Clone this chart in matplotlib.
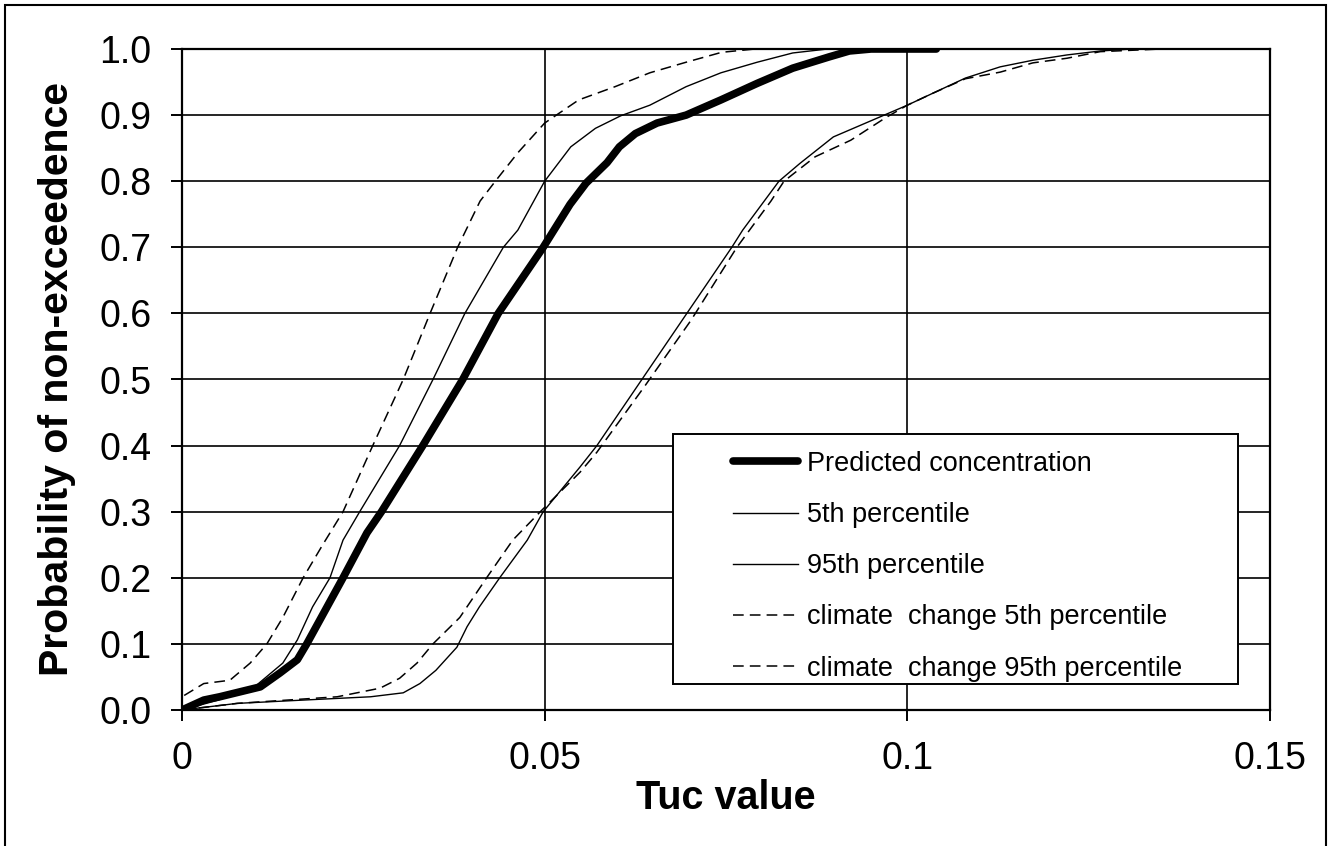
import matplotlib
matplotlib.use("Agg")
import matplotlib.pyplot as plt
from matplotlib.patches import Rectangle

plt.rcParams['font.family'] = ['Liberation Sans', 'DejaVu Sans']

# Predicted concentration (thick)
pred_x = [0, 0.003, 0.0052, 0.0108, 0.0135, 0.0159, 0.0172, 0.020, 0.0222, 0.0255, 0.0275,
          0.0332, 0.0387, 0.0436, 0.0498, 0.0535, 0.0557, 0.0586, 0.0603, 0.0625, 0.0655,
          0.0695, 0.0743, 0.0793, 0.0842, 0.0892, 0.092, 0.095, 0.104]
pred_p = [0, 0.015, 0.02, 0.035, 0.056, 0.076, 0.10, 0.156, 0.20, 0.268, 0.30,
          0.40, 0.50, 0.60, 0.70, 0.765, 0.797, 0.828, 0.852, 0.872, 0.888,
          0.90, 0.923, 0.948, 0.971, 0.988, 0.997, 1.0, 1.0]

# 5th percentile (thin solid, left)
p5_x = [0, 0.005, 0.010, 0.0139, 0.0159, 0.018, 0.0204, 0.0222, 0.0245, 0.030, 0.0346,
        0.039, 0.0443, 0.0463, 0.050, 0.0536, 0.057, 0.0605, 0.0645, 0.0695, 0.0743,
        0.0793, 0.0842, 0.089]
p5_p = [0, 0.015, 0.035, 0.071, 0.106, 0.156, 0.20, 0.257, 0.30, 0.40, 0.50,
        0.60, 0.70, 0.726, 0.80, 0.852, 0.880, 0.899, 0.915, 0.943, 0.964,
        0.98, 0.994, 1.0]

# 95th percentile (thin solid, right)
p95_x = [0, 0.0076, 0.0167, 0.026, 0.0305, 0.0328, 0.035, 0.0379, 0.0393, 0.041, 0.0438,
         0.0476, 0.0498, 0.0549, 0.0572, 0.0634, 0.0696, 0.0758, 0.0773, 0.0823, 0.0852,
         0.0898, 0.0966, 0.100, 0.1035, 0.108, 0.1128, 0.1173, 0.122, 0.1266, 0.131]
p95_p = [0, 0.01, 0.015, 0.02, 0.026, 0.04, 0.06, 0.095, 0.126, 0.156, 0.20,
         0.257, 0.30, 0.368, 0.40, 0.50, 0.60, 0.70, 0.726, 0.80, 0.827,
         0.867, 0.899, 0.915, 0.933, 0.956, 0.973, 0.983, 0.991, 0.997, 1.0]

# climate change 5th percentile (dashed, left)
cc5_x = [0.0003, 0.003, 0.0066, 0.0094, 0.0117, 0.0139, 0.0167, 0.0194, 0.0222, 0.0263,
         0.0305, 0.0342, 0.038, 0.0411, 0.0432, 0.0463, 0.050, 0.0547, 0.0597, 0.0645,
         0.0695, 0.0744, 0.079]
cc5_p = [0.022, 0.04, 0.045, 0.071, 0.10, 0.14, 0.20, 0.25, 0.30, 0.40,
         0.50, 0.60, 0.70, 0.77, 0.80, 0.843, 0.888, 0.923, 0.943, 0.964,
         0.98, 0.995, 1.0]

# climate change 95th percentile (dashed, right)
cc95_x = [0, 0.0076, 0.0214, 0.0273, 0.030, 0.0324, 0.0346, 0.0383, 0.042, 0.0456,
          0.0494, 0.0549, 0.0572, 0.0638, 0.0702, 0.0765, 0.0812, 0.0830, 0.0873, 0.0922,
          0.097, 0.100, 0.1035, 0.108, 0.1128, 0.1173, 0.122, 0.1266, 0.135]
cc95_p = [0, 0.01, 0.02, 0.033, 0.048, 0.071, 0.10, 0.14, 0.20, 0.257,
          0.30, 0.36, 0.39, 0.49, 0.59, 0.70, 0.77, 0.80, 0.837, 0.862,
          0.896, 0.915, 0.933, 0.955, 0.965, 0.979, 0.986, 0.996, 1.0]

labels = ["Predicted concentration", "5th percentile", "95th percentile",
          "climate  change 5th percentile", "climate  change 95th percentile"]
x_ticks = [0, 0.05, 0.1, 0.15]
x_ticklabels = ["0", "0.05", "0.1", "0.15"]
y_ticks = [0.0, 0.1, 0.2, 0.3, 0.4, 0.5, 0.6, 0.7, 0.8, 0.9, 1.0]

fig = plt.figure(figsize=(13.31, 8.46), dpi=100)
ax = fig.add_axes([182/1331, 1-710/846, (1270-182)/1331, (710-49)/846])

dash = (0, (7, 4))
l2, = ax.plot(p5_x, p5_p, color='black', lw=1.0, zorder=3)
l3, = ax.plot(p95_x, p95_p, color='black', lw=1.0, zorder=3)
l4, = ax.plot(cc5_x, cc5_p, color='black', lw=1.1, ls=dash, zorder=3)
l5, = ax.plot(cc95_x, cc95_p, color='black', lw=1.1, ls=dash, zorder=3)
l1, = ax.plot(pred_x, pred_p, color='black', lw=5.5, zorder=3.5, solid_capstyle='round')

ax.set_xlim(0, 0.15)
ax.set_ylim(0, 1.0)
ax.set_xticks(x_ticks)
ax.set_xticklabels(x_ticklabels)
ax.set_yticks(y_ticks)
ax.set_yticklabels([f"{v:.1f}" for v in y_ticks])
ax.grid(True, color='black', lw=1.2)
ax.set_axisbelow(True)
for s in ax.spines.values():
    s.set_linewidth(1.6)
    s.set_color('black')
ax.tick_params(direction='out', length=8, width=1.4, labelsize=27, pad=14, colors='black')

ax.set_xlabel("Tuc value", fontsize=28.5, fontweight='bold', labelpad=2)
ax.set_ylabel("Probability of non-exceedence", fontsize=29.5, fontweight='bold', labelpad=17)

# legend frame
box = Rectangle((0.451, 0.0393), 0.5197, 0.3782, transform=ax.transAxes,
                facecolor='white', edgecolor='black', lw=1.4, zorder=4)
ax.add_patch(box)
leg = ax.legend([l1, l2, l3, l4, l5], labels, loc='upper left',
                bbox_to_anchor=(0.5064, 0.392), frameon=False, fontsize=19.5,
                borderpad=0, borderaxespad=0, handlelength=2.4, handletextpad=0.35,
                labelspacing=0.93)
leg.set_zorder(5)

fig.patches.append(Rectangle((5/1331, -0.02), 1321/1331, 1.02 - 5/846,
                             transform=fig.transFigure, fill=False,
                             edgecolor='black', lw=1.5))

fig.savefig("out.png", dpi=100)
